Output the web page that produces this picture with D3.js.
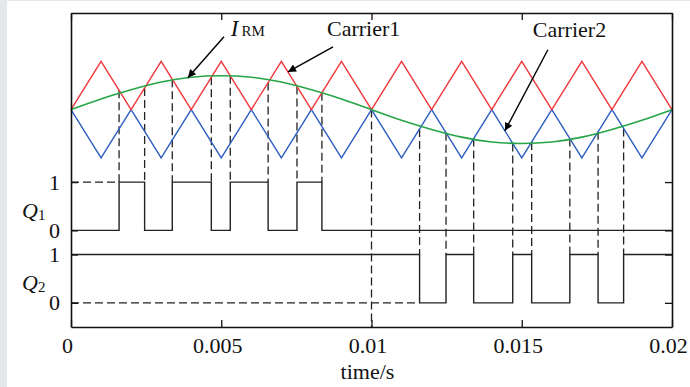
<!DOCTYPE html>
<meta charset="utf-8">
<script src="https://d3js.org/d3.v7.min.js"></script>
<style>
  body { margin: 0; background: #fff; }
  svg text { font-family: "Liberation Serif", "Times New Roman", serif; fill: #111; }
</style>
<body>
<div id="chart"></div>
<script>

// carrier vertices (s) and levels
const carrierTimes = [0, 0.001, 0.002, 0.003, 0.004, 0.005, 0.006, 0.007, 0.008, 0.009, 0.01,
                      0.011, 0.012, 0.013, 0.014, 0.015, 0.016, 0.017, 0.018, 0.019, 0.02]
const carrier1 = [0, 1, 0, 1, 0, 1, 0, 1, 0, 1, 0, 1, 0, 1, 0, 1, 0, 1, 0, 1, 0]
const carrier2 = [0, -1, 0, -1, 0, -1, 0, -1, 0, -1, 0, -1, 0, -1, 0, -1, 0, -1, 0, -1, 0]

// reference current I_RM
const irmTimes = carrierTimes
const irm = [0, 0.22, 0.41, 0.57, 0.67, 0.70, 0.67, 0.57, 0.41, 0.22, 0,
             -0.22, -0.41, -0.57, -0.67, -0.70, -0.67, -0.57, -0.41, -0.22, 0]

// switching instants of Q1 and Q2
const q1Start = 0
const q1Edges = [0.0016, 0.00245, 0.00337, 0.00467, 0.0053, 0.00656, 0.00752, 0.00835]
const q2Start = 1
const q2Edges = [0.0116, 0.01248, 0.0134, 0.0147, 0.01533, 0.0166, 0.01754, 0.01839]

const xTicks = [0, 0.005, 0.01, 0.015, 0.02]
const xTickLabels = ["0", "0.005", "0.01", "0.015", "0.02"]
const yTickLabels = ["0", "1", "0", "1"]

// vertical placement of each trace (in plot units)
const carrierBase = 4
const q1Low = 1.5, q1High = 2.5
const q2Low = 0, q2High = 1

const W = 690, H = 387
const margin = {top: 13, right: 18, bottom: 60, left: 71}
const width = W - margin.left - margin.right
const height = H - margin.top - margin.bottom

const svg = d3.select("#chart").append("svg")
  .attr("width", W).attr("height", H)

// grey strip at the page edge
svg.append("rect").attr("x", 0).attr("y", 0).attr("width", W).attr("height", H).attr("fill", "#e6e7e9")
svg.append("rect").attr("x", 7).attr("y", 1).attr("width", W - 7).attr("height", H - 1).attr("fill", "#fff")

const g = svg.append("g").attr("transform", `translate(${margin.left},${margin.top})`)

const x = d3.scaleLinear().domain([0, 0.02]).range([0, width])
const y = d3.scaleLinear().domain([-0.5, 6]).range([height, 0])

// carrier lookup for the dashed guides
const c1 = d3.scaleLinear().domain(carrierTimes).range(carrier1)
const c2 = d3.scaleLinear().domain(carrierTimes).range(carrier2)

const dash = "8,4"
const guideColor = "#222"

// ---- dashed guides ----
g.append("g").selectAll("line")
  .data(q1Edges).join("line")
    .attr("x1", d => x(d)).attr("x2", d => x(d))
    .attr("y1", d => y(carrierBase + c1(d))).attr("y2", y(q1High))
    .attr("stroke", guideColor).attr("stroke-width", 1.3).attr("stroke-dasharray", dash)

g.append("g").selectAll("line")
  .data(q2Edges).join("line")
    .attr("x1", d => x(d)).attr("x2", d => x(d))
    .attr("y1", d => y(carrierBase + c2(d))).attr("y2", y(q2High))
    .attr("stroke", guideColor).attr("stroke-width", 1.3).attr("stroke-dasharray", dash)

// centre line at 0.01
g.append("line")
  .attr("x1", x(0.01)).attr("x2", x(0.01))
  .attr("y1", y(carrierBase)).attr("y2", y(-0.5))
  .attr("stroke", guideColor).attr("stroke-width", 1.3).attr("stroke-dasharray", dash)

// horizontal reference levels
g.append("line")
  .attr("x1", x(0)).attr("x2", x(q1Edges[0]))
  .attr("y1", y(q1High)).attr("y2", y(q1High))
  .attr("stroke", guideColor).attr("stroke-width", 1.3).attr("stroke-dasharray", dash)
g.append("line")
  .attr("x1", x(0)).attr("x2", x(q2Edges[0]))
  .attr("y1", y(q2Low)).attr("y2", y(q2Low))
  .attr("stroke", guideColor).attr("stroke-width", 1.3).attr("stroke-dasharray", dash)

// ---- carriers and reference ----
const line = d3.line().x(d => x(d[0])).y(d => y(carrierBase + d[1]))

g.append("path")
  .datum(carrierTimes.map((t, i) => [t, carrier2[i]]))
  .attr("d", line).attr("fill", "none").attr("stroke", "#2f5fc0").attr("stroke-width", 1.4)
g.append("path")
  .datum(carrierTimes.map((t, i) => [t, carrier1[i]]))
  .attr("d", line).attr("fill", "none").attr("stroke", "#f2383c").attr("stroke-width", 1.4)
g.append("path")
  .datum(irmTimes.map((t, i) => [t, irm[i]]))
  .attr("d", line.curve(d3.curveNatural)).attr("fill", "none").attr("stroke", "#26a546").attr("stroke-width", 1.6)

// ---- switching signals ----
function stepData(start, edges, lo, hi) {
  let v = start
  const pts = [[0, v ? hi : lo]]
  edges.forEach(t => { v = 1 - v; pts.push([t, v ? hi : lo]) })
  pts.push([0.02, v ? hi : lo])
  return pts
}
const step = d3.line().x(d => x(d[0])).y(d => y(d[1])).curve(d3.curveStepAfter)

g.append("path")
  .datum(stepData(q1Start, q1Edges, q1Low, q1High))
  .attr("d", step).attr("fill", "none").attr("stroke", "#222").attr("stroke-width", 1.4)
g.append("path")
  .datum(stepData(q2Start, q2Edges, q2Low, q2High))
  .attr("d", step).attr("fill", "none").attr("stroke", "#222").attr("stroke-width", 1.4)

// ---- axes (ticks inward, box frame) ----
const yTicks = [q2Low, q2High, q1Low, q1High]

g.append("g").attr("transform", `translate(0,${height})`)
  .call(d3.axisBottom(x).tickValues(xTicks).tickFormat((d, i) => xTickLabels[i])
    .tickSizeInner(-7).tickSizeOuter(0).tickPadding(10))
  .call(a => a.selectAll("text").attr("font-size", 22).attr("dx", -4).attr("font-family", null))

g.append("g")
  .call(d3.axisTop(x).tickValues(xTicks).tickFormat("").tickSizeInner(-7).tickSizeOuter(0))

g.append("g")
  .call(d3.axisLeft(y).tickValues(yTicks).tickFormat((d, i) => yTickLabels[i])
    .tickSizeInner(-7).tickSizeOuter(0).tickPadding(11))
  .call(a => a.selectAll("text").attr("font-size", 22).attr("font-family", null))

g.append("g").attr("transform", `translate(${width},0)`)
  .call(d3.axisRight(y).tickValues(yTicks).tickFormat("").tickSizeInner(-7).tickSizeOuter(0))

g.selectAll(".domain").attr("stroke", "#111").attr("stroke-width", 1.6)
g.selectAll(".tick line").attr("stroke", "#111").attr("stroke-width", 1.3)

// axis title
g.append("text")
  .attr("x", x(0.01) - 4).attr("y", height + 52)
  .attr("text-anchor", "middle").attr("font-size", 22)
  .text("time/s")

// Q labels
function qLabel(sub, yy) {
  const t = svg.append("text").attr("x", 22).attr("y", yy).attr("font-size", 22)
  t.append("tspan").attr("font-style", "italic").text("Q")
  t.append("tspan").attr("font-size", 15).attr("dy", 2).text(sub)
}
qLabel("1", margin.top + (y(q1Low) + y(q1High)) / 2 + 12)
qLabel("2", margin.top + (y(q2Low) + y(q2High)) / 2 + 11)

// ---- annotations ----
svg.append("defs").append("marker")
  .attr("id", "arrow").attr("viewBox", "0 0 10 10")
  .attr("refX", 10).attr("refY", 5)
  .attr("markerWidth", 11).attr("markerHeight", 8).attr("markerUnits", "userSpaceOnUse")
  .attr("orient", "auto")
  .append("path").attr("d", "M0,0L10,5L0,10Z").attr("fill", "#000")

const notes = [
  {from: [0.00509, 5.51], to: [0.00389, carrierBase + 0.66]},
  {from: [0.00872, 5.30], to: [0.00722, carrierBase + 0.78]},
  {from: [0.01587, 5.24], to: [0.01444, carrierBase - 0.44]}
]
g.append("g").selectAll("line")
  .data(notes).join("line")
    .attr("x1", d => x(d.from[0])).attr("y1", d => y(d.from[1]))
    .attr("x2", d => x(d.to[0])).attr("y2", d => y(d.to[1]))
    .attr("stroke", "#000").attr("stroke-width", 1.4)
    .attr("marker-end", "url(#arrow)")

const irmLabel = g.append("text").attr("x", x(0.00532)).attr("y", y(5.52)).attr("font-size", 23)
irmLabel.append("tspan").attr("font-style", "italic").text("I")
irmLabel.append("tspan").attr("font-size", 15).attr("dx", 3).text("RM")

g.append("text").attr("x", x(0.00852)).attr("y", y(5.52)).attr("font-size", 22).text("Carrier1")
g.append("text").attr("x", x(0.01537)).attr("y", y(5.5)).attr("font-size", 22).text("Carrier2")

</script>
</body>
